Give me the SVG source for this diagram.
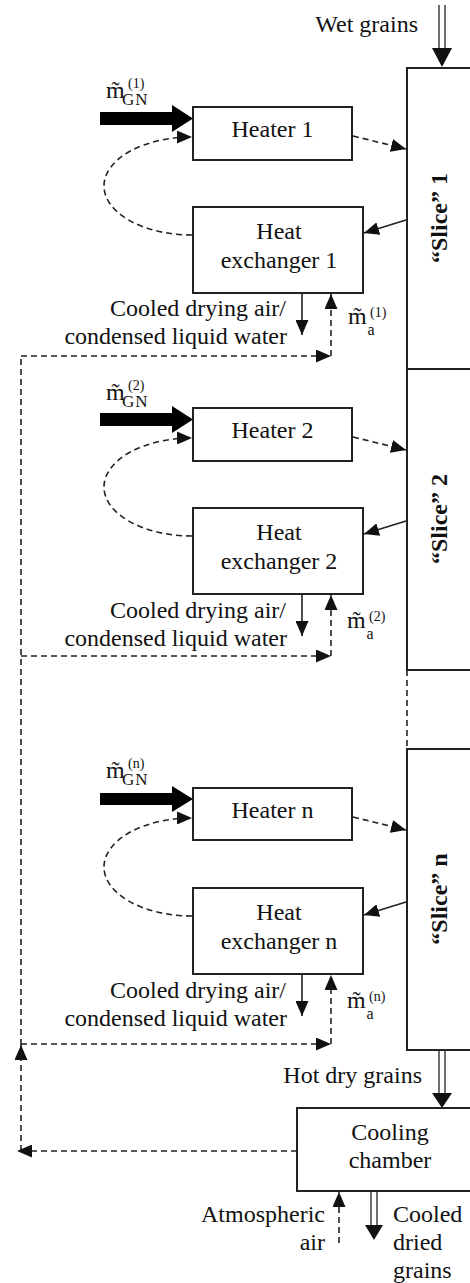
<svg xmlns="http://www.w3.org/2000/svg" width="470" height="1283" viewBox="0 0 470 1283">
<defs>
<style>
.box{fill:#fff;stroke:#222;stroke-width:2}
.t{font-family:"Liberation Serif","Times New Roman",serif;font-size:24px;fill:#111}
.c{text-anchor:middle}
.e{text-anchor:end}
.b{font-weight:bold}
.sub{font-size:17px;letter-spacing:1px}
.suba{font-size:16px}
.sup{font-size:14px}
.sol{stroke:#222;stroke-width:1.6;fill:none}
.dsh{stroke:#222;stroke-width:1.6;fill:none;stroke-dasharray:6 4}
.dl{stroke:#222;stroke-width:1.3}
.head{fill:#111}
</style>
<marker id="ah" viewBox="0 0 15 13" refX="15" refY="6.5" markerWidth="15" markerHeight="13" markerUnits="userSpaceOnUse" orient="auto"><path d="M0,0L15,6.5L0,13z" fill="#111"/></marker>
</defs>

<g id="slice1"><rect class="box" x="407" y="68" width="80" height="301"/><text class="t b c" transform="translate(447,218) rotate(-90)">“Slice” 1</text></g>
<g id="slice2"><rect class="box" x="407" y="369" width="80" height="301"/><text class="t b c" transform="translate(447,519) rotate(-90)">“Slice” 2</text></g>
<g id="slicen"><rect class="box" x="407" y="749" width="80" height="301"/><text class="t b c" transform="translate(447,899) rotate(-90)">“Slice” n</text></g>

<g id="heater1"><rect class="box" x="193" y="107" width="159" height="53"/><text class="t c" x="272.5" y="137">Heater 1</text></g>
<g id="hx1"><rect class="box" x="193" y="207" width="170" height="86"/><text class="t c" x="279" y="239">Heat</text><text class="t c" x="279" y="268">exchanger 1</text></g>
<g id="heater2"><rect class="box" x="193" y="408" width="159" height="53"/><text class="t c" x="272.5" y="438">Heater 2</text></g>
<g id="hx2"><rect class="box" x="193" y="508" width="170" height="86"/><text class="t c" x="279" y="540">Heat</text><text class="t c" x="279" y="569">exchanger 2</text></g>
<g id="heatern"><rect class="box" x="193" y="788" width="159" height="52"/><text class="t c" x="272.5" y="818">Heater n</text></g>
<g id="hxn"><rect class="box" x="193" y="888" width="170" height="86"/><text class="t c" x="279" y="920">Heat</text><text class="t c" x="279" y="949">exchanger n</text></g>
<g id="cooling"><rect class="box" x="297" y="1108" width="190" height="83"/><text class="t c" x="390" y="1140">Cooling</text><text class="t c" x="390" y="1168">chamber</text></g>

<g id="labels">
<text class="t e" x="418" y="32">Wet grains</text>
<text class="t e" x="422" y="1083">Hot dry grains</text>
<text class="t e" x="325" y="1222">Atmospheric</text>
<text class="t e" x="325" y="1250">air</text>
<text class="t" x="393" y="1222">Cooled</text>
<text class="t" x="393" y="1250">dried</text>
<text class="t" x="393" y="1278">grains</text>
<text class="t e" x="286" y="316">Cooled drying air/</text>
<text class="t e" x="287" y="344">condensed liquid water</text>
<text class="t e" x="286" y="618">Cooled drying air/</text>
<text class="t e" x="287" y="646">condensed liquid water</text>
<text class="t e" x="286" y="998">Cooled drying air/</text>
<text class="t e" x="287" y="1026">condensed liquid water</text>
<text class="t" x="106" y="98">m̃<tspan class="sub" x="122" y="105">GN</tspan><tspan class="sup" x="128" y="88">(1)</tspan></text>
<text class="t" x="106" y="400">m̃<tspan class="sub" x="122" y="407">GN</tspan><tspan class="sup" x="128" y="390">(2)</tspan></text>
<text class="t" x="106" y="778">m̃<tspan class="sub" x="122" y="785">GN</tspan><tspan class="sup" x="128" y="768">(n)</tspan></text>
<text class="t" x="348" y="324">m̃<tspan class="suba" x="367.5" y="335">a</tspan><tspan class="sup" x="370" y="317">(1)</tspan></text>
<text class="t" x="347" y="628">m̃<tspan class="suba" x="366.5" y="639">a</tspan><tspan class="sup" x="369" y="621">(2)</tspan></text>
<text class="t" x="347" y="1008">m̃<tspan class="suba" x="366.5" y="1019">a</tspan><tspan class="sup" x="369" y="1001">(n)</tspan></text>
</g>

<g id="connectors">
<path fill="#000" d="M100,112L172,112L172,105L193,118.5L172,132L172,125L100,125Z"/>
<path fill="#000" d="M100,413L172,413L172,406L193,419.5L172,433L172,426L100,426Z"/>
<path fill="#000" d="M100,793L172,793L172,786L193,799L172,812L172,805L100,805Z"/>
<path class="dsh" d="M192,235A88,49 0 0 1 192,137" marker-end="url(#ah)"/>
<path class="dsh" d="M192,536A88,49 0 0 1 192,438" marker-end="url(#ah)"/>
<path class="dsh" d="M192,916A88,49 0 0 1 192,818" marker-end="url(#ah)"/>
<path class="dsh" d="M353,136L406,149" marker-end="url(#ah)"/>
<path class="dsh" d="M353,437L406,450" marker-end="url(#ah)"/>
<path class="dsh" d="M353,817L406,830" marker-end="url(#ah)"/>
<path class="sol" d="M406,220L364,233" marker-end="url(#ah)"/>
<path class="sol" d="M406,521L364,534" marker-end="url(#ah)"/>
<path class="sol" d="M406,902L364,915" marker-end="url(#ah)"/>
<path class="sol" d="M302,294L302,335" marker-end="url(#ah)"/>
<path class="sol" d="M302,595L302,636" marker-end="url(#ah)"/>
<path class="sol" d="M302,975L302,1016" marker-end="url(#ah)"/>
<path class="dsh" d="M331,356L331,294" marker-end="url(#ah)"/>
<path class="dsh" d="M331,656L331,595" marker-end="url(#ah)"/>
<path class="dsh" d="M331,1044L331,975" marker-end="url(#ah)"/>
<path class="dsh" d="M21,356L331,356" marker-end="url(#ah)"/>
<path class="dsh" d="M21,656L331,656" marker-end="url(#ah)"/>
<path class="dsh" d="M21,1044L331,1044" marker-end="url(#ah)"/>
<path class="dsh" d="M21,1045L21,356"/>
<path class="dsh" d="M21,1151L21,1045" marker-end="url(#ah)"/>
<path class="dsh" d="M297,1151L17,1151" marker-end="url(#ah)"/>
<path class="dsh" d="M407,670L407,749"/>
<path class="dsh" d="M339,1243L339,1192" marker-end="url(#ah)"/>
<line class="dl" x1="439" y1="5" x2="439" y2="49"/><line class="dl" x1="445" y1="5" x2="445" y2="49"/><path class="head" d="M432,48L452,48L442,67Z"/>
<line class="dl" x1="439" y1="1050" x2="439" y2="1094"/><line class="dl" x1="445" y1="1050" x2="445" y2="1094"/><path class="head" d="M432,1093L452,1093L442,1108Z"/>
<line class="dl" x1="371" y1="1191" x2="371" y2="1226"/><line class="dl" x1="377" y1="1191" x2="377" y2="1226"/><path class="head" d="M365,1225L383,1225L374,1240Z"/>
</g>
</svg>
